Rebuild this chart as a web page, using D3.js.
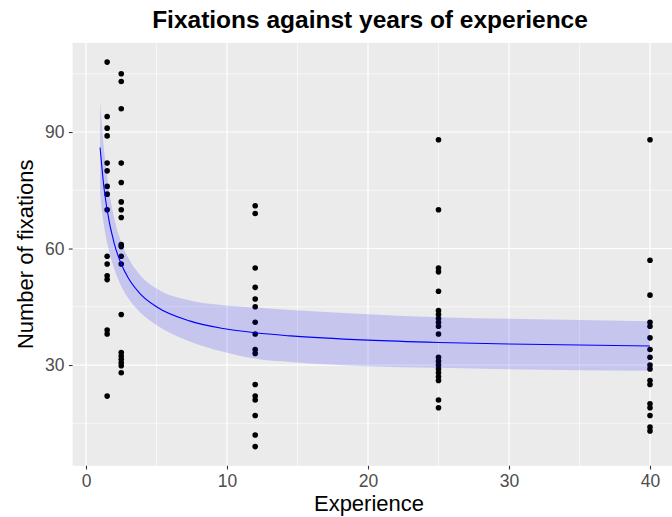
<!DOCTYPE html>
<html>
<head>
<meta charset="utf-8">
<script src="https://cdn.jsdelivr.net/npm/d3@7"></script>
<style>
  html, body { margin: 0; padding: 0; background: #ffffff; }
  svg { display: block; }
</style>
</head>
<body>
<svg id="chart" width="672" height="517"></svg>
<script>
// ---------------- data ----------------
const experienceLevels = [1.5, 2.5, 12, 25, 40];
const fixations_1_5 = [108, 94, 91, 89, 82, 80, 76, 74, 70, 58, 56, 53, 52, 39, 38, 22];
const fixations_2_5 = [105, 103, 96, 82, 77, 72, 70, 68, 61, 60.5, 58, 56, 43, 33.2, 32.3, 31.5, 30.6, 29.8, 28];
const fixations_12 = [71, 69, 55, 50, 47, 45, 41, 38, 34, 33, 25, 22, 21, 17, 12, 9];
const fixations_25 = [88, 70, 55, 54, 49, 44, 43, 42, 41, 40, 38, 32, 31, 30, 29, 28, 27, 26, 21, 19];
const fixations_40 = [88, 57, 48, 41, 40, 37, 34, 32, 30, 29, 26, 25, 20, 19, 17, 14, 13];
const fixationColumns = [fixations_1_5, fixations_2_5, fixations_12, fixations_25, fixations_40];

// fitted smooth and its confidence band
const fitX     = [1, 1.25, 1.5, 2, 2.5, 3, 3.83, 5, 7.4, 9.74, 12, 14.5, 20, 25, 30, 40];
const fitY     = [86, 76.5, 69.9, 61.3, 56.0, 52.4, 48.4, 45.0, 41.3, 39.4, 38.3, 37.5, 36.4, 35.8, 35.4, 34.9];
const fitUpper = [98, 86.5, 78.4, 67.8, 61.7, 57.6, 53.2, 49.7, 46.6, 45.4, 44.8, 44.2, 43.1, 42.3, 41.9, 41.3];
const fitLower = [74, 66.5, 61.4, 54.8, 50.3, 47.2, 43.6, 40.3, 36.0, 33.4, 31.6, 30.8, 29.7, 29.3, 28.9, 28.5];

const xMajorTicks = [0, 10, 20, 30, 40];
const xMinorTicks = [5, 15, 25, 35];
const yMajorTicks = [30, 60, 90];
const yMinorTicks = [15, 45, 75, 105];

const titleText = "Fixations against years of experience";
const xTitle = "Experience";
const yTitle = "Number of fixations";

// ---------------- layout ----------------
const svg = d3.select("#chart");
const panel = { left: 72.6, right: 677.5, top: 42.9, bottom: 465.8 };

const x = d3.scaleLinear().domain([-0.95, 41.95]).range([panel.left, panel.right]);
const y = d3.scaleLinear().domain([4.05, 112.95]).range([panel.bottom, panel.top]);

const font = "'Liberation Sans', Arial, Helvetica, sans-serif";

// panel background
svg.append("rect")
  .attr("x", panel.left).attr("y", panel.top)
  .attr("width", panel.right - panel.left).attr("height", panel.bottom - panel.top)
  .attr("fill", "#EBEBEB");

svg.append("clipPath").attr("id", "clip")
  .append("rect")
  .attr("x", panel.left).attr("y", panel.top)
  .attr("width", panel.right - panel.left).attr("height", panel.bottom - panel.top);

const g = svg.append("g").attr("clip-path", "url(#clip)");

// grid
g.selectAll(".xminor").data(xMinorTicks).join("line")
  .attr("x1", d => x(d)).attr("x2", d => x(d))
  .attr("y1", panel.top).attr("y2", panel.bottom)
  .attr("stroke", "#ffffff").attr("stroke-width", 0.6);
g.selectAll(".yminor").data(yMinorTicks).join("line")
  .attr("y1", d => y(d)).attr("y2", d => y(d))
  .attr("x1", panel.left).attr("x2", panel.right)
  .attr("stroke", "#ffffff").attr("stroke-width", 0.6);
g.selectAll(".xmajor").data(xMajorTicks).join("line")
  .attr("x1", d => x(d)).attr("x2", d => x(d))
  .attr("y1", panel.top).attr("y2", panel.bottom)
  .attr("stroke", "#ffffff").attr("stroke-width", 1.2);
g.selectAll(".ymajor").data(yMajorTicks).join("line")
  .attr("y1", d => y(d)).attr("y2", d => y(d))
  .attr("x1", panel.left).attr("x2", panel.right)
  .attr("stroke", "#ffffff").attr("stroke-width", 1.2);

// points
const points = [];
experienceLevels.forEach((ex, i) => fixationColumns[i].forEach(v => points.push({ ex, v })));
g.selectAll(".pt").data(points).join("circle")
  .attr("cx", d => x(d.ex)).attr("cy", d => y(d.v))
  .attr("r", 2.8).attr("fill", "#000000");

// confidence band
const fitData = fitX.map((fx, i) => ({ fx, fy: fitY[i], lo: fitLower[i], hi: fitUpper[i] }));
g.append("path").datum(fitData)
  .attr("d", d3.area().x(d => x(d.fx)).y0(d => y(d.lo)).y1(d => y(d.hi)).curve(d3.curveMonotoneX))
  .attr("fill", "#0000FF").attr("fill-opacity", 0.16);

g.append("path").datum(fitData)
  .attr("d", d3.line().x(d => x(d.fx)).y(d => y(d.fy)).curve(d3.curveMonotoneX))
  .attr("fill", "none").attr("stroke", "#0000FF").attr("stroke-width", 1.1);

// axes
const xAxis = svg.append("g").attr("transform", `translate(0,${panel.bottom})`)
  .call(d3.axisBottom(x).tickValues(xMajorTicks).tickSize(3.7).tickPadding(5.5).tickFormat(d3.format("d")));
const yAxis = svg.append("g").attr("transform", `translate(${panel.left},0)`)
  .call(d3.axisLeft(y).tickValues(yMajorTicks).tickSize(3.7).tickPadding(4.5).tickFormat(d3.format("d")));
[xAxis, yAxis].forEach(a => {
  a.select(".domain").remove();
  a.selectAll(".tick line").attr("stroke", "#333333").attr("stroke-width", 1.1);
  a.selectAll(".tick text").attr("fill", "#4D4D4D").style("font-family", font).style("font-size", "17.5px");
});

// titles
svg.append("text").attr("x", 370).attr("y", 28)
  .attr("text-anchor", "middle")
  .style("font-family", font).style("font-size", "24.5px").style("font-weight", "bold")
  .attr("fill", "#000000").text(titleText);

svg.append("text").attr("x", 369).attr("y", 511)
  .attr("text-anchor", "middle")
  .style("font-family", font).style("font-size", "22px")
  .attr("fill", "#000000").text(xTitle);

svg.append("text")
  .attr("transform", `translate(33,${(panel.top + panel.bottom) / 2}) rotate(-90)`)
  .attr("text-anchor", "middle")
  .style("font-family", font).style("font-size", "22px")
  .attr("fill", "#000000").text(yTitle);
</script>
</body>
</html>
